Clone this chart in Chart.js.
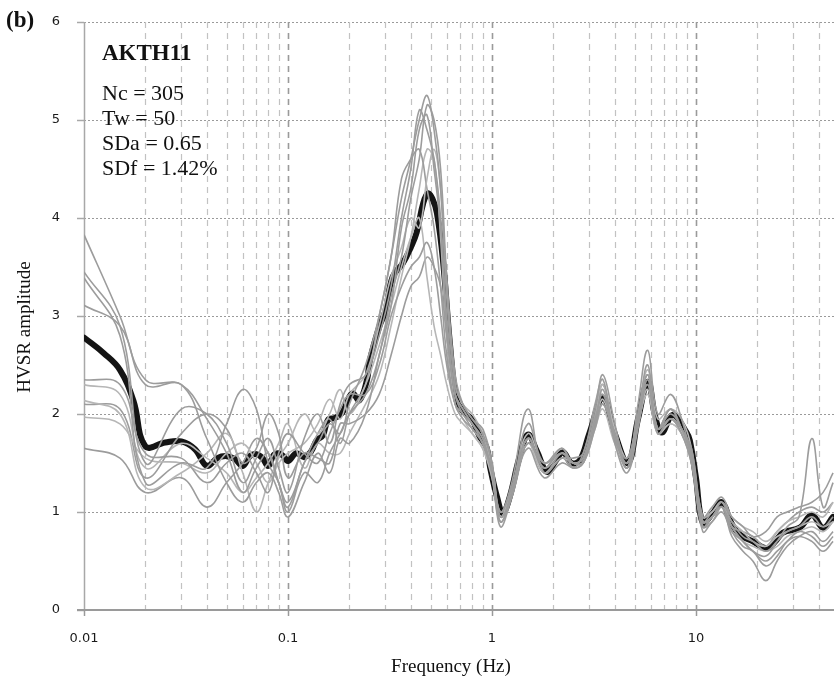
<!DOCTYPE html>
<html>
<head>
<meta charset="utf-8">
<title>HVSR AKTH11</title>
<script src="https://cdn.jsdelivr.net/npm/chart.js@4.4.1/dist/chart.umd.min.js"></script>
<style>
  html, body { margin: 0; padding: 0; background: #fff; }
  canvas { display: block; }
</style>
</head>
<body>
<canvas id="hvsr-chart" width="834" height="679"></canvas>
<script>
// frequency grid (Hz) shared by the individual window curves
const freqs = [
  0.01, 0.015, 0.02, 0.03, 0.04, 0.05, 0.06, 0.07, 0.08, 0.09,
  0.1, 0.12, 0.14, 0.16, 0.18, 0.2, 0.24, 0.28, 0.32, 0.36,
  0.4, 0.44, 0.48, 0.52, 0.56, 0.6, 0.66, 0.72, 0.8, 0.9,
  1.0, 1.1, 1.25, 1.5, 1.8, 2.2, 2.5, 2.8, 3.2, 3.5,
  4.0, 4.6, 5.2, 5.8, 6.5, 7.5, 8.5, 9.5, 10.8, 12,
  13.4, 15, 17, 19, 22, 25, 28, 32, 37, 42,
  47
];

// HVSR of the individual windows (grey curves)
const win1 = [3.83, 3.0, 2.35, 2.3, 1.95, 1.6, 1.2, 1.45, 1.6, 1.3,
  1.05, 1.5, 1.7, 1.9, 1.8, 2.1, 2.5, 3.0, 3.6, 4.2,
  4.6, 5.0, 5.25, 4.9, 4.3, 3.2, 2.3, 2.1, 1.95, 1.8,
  1.5, 0.95, 1.2, 1.9, 1.5, 1.65, 1.45, 1.6, 2.05, 2.4,
  1.9, 1.45, 2.1, 2.65, 2.0, 2.2, 1.95, 1.55, 0.85, 0.95,
  1.05, 0.85, 0.7, 0.6, 0.55, 0.7, 0.85, 0.95, 1.75, 1.05,
  1.3];
const win2 = [3.45, 2.9, 1.5, 2.05, 2.0, 1.7, 1.3, 1.55, 1.75, 1.45,
  1.2, 1.75, 2.0, 1.7, 2.1, 2.3, 2.4, 2.8, 3.3, 4.0,
  4.5, 5.1, 4.9, 4.6, 4.0, 3.0, 2.2, 2.0, 1.9, 1.7,
  1.45, 1.0, 1.3, 2.05, 1.4, 1.55, 1.55, 1.6, 2.1, 2.35,
  1.75, 1.55, 2.0, 2.5, 1.85, 2.05, 1.85, 1.65, 0.95, 1.05,
  1.15, 0.95, 0.85, 0.75, 0.8, 0.95, 1.0, 1.05, 1.1, 1.2,
  1.4];
const win3 = [3.39, 2.8, 1.3, 1.5, 1.45, 1.9, 2.25, 2.05, 1.5, 1.3,
  1.0, 1.4, 1.3, 1.6, 1.8, 2.0, 2.2, 2.6, 3.2, 3.6,
  4.2, 4.6, 5.15, 5.0, 4.5, 3.4, 2.4, 2.1, 1.95, 1.85,
  1.5, 0.9, 1.2, 1.7, 1.5, 1.6, 1.5, 1.5, 1.85, 2.1,
  1.8, 1.45, 1.9, 2.4, 1.85, 2.05, 1.85, 1.55, 0.85, 0.95,
  1.05, 0.75, 0.6, 0.5, 0.3, 0.5, 0.65, 0.75, 0.8, 0.7,
  0.8];
const win4 = [3.11, 2.9, 2.3, 2.3, 1.75, 1.3, 1.1, 1.3, 1.4, 1.2,
  0.95, 1.3, 1.6, 1.4, 1.75, 1.7, 2.0, 2.6, 3.1, 3.9,
  4.3, 4.9, 5.05, 4.5, 3.9, 2.9, 2.2, 2.05, 1.9, 1.75,
  1.4, 0.85, 1.15, 1.65, 1.35, 1.5, 1.45, 1.5, 1.9, 2.25,
  1.7, 1.4, 1.85, 2.35, 1.8, 1.95, 1.8, 1.5, 0.8, 0.9,
  1.0, 0.8, 0.7, 0.6, 0.5, 0.6, 0.7, 0.8, 0.75, 0.65,
  0.75];
const win5 = [2.35, 2.3, 1.6, 1.55, 1.3, 1.5, 1.6, 1.4, 1.2, 1.6,
  1.8, 1.6, 1.5, 1.8, 2.05, 2.2, 2.2, 2.5, 3.0, 3.3,
  3.5, 3.6, 3.75, 3.5, 3.0, 2.5, 2.1, 2.0, 1.85, 1.7,
  1.4, 1.0, 1.25, 1.75, 1.45, 1.65, 1.5, 1.55, 1.95, 2.2,
  1.75, 1.5, 1.95, 2.3, 1.85, 1.95, 1.85, 1.6, 0.9, 0.95,
  1.1, 0.9, 0.75, 0.7, 0.6, 0.7, 0.8, 0.85, 0.95, 0.85,
  0.95];
const win6 = [2.14, 2.0, 1.25, 1.4, 1.6, 1.8, 1.4, 1.0, 1.3, 1.55,
  1.7, 2.0, 1.8, 2.0, 2.25, 2.0, 2.3, 2.7, 3.1, 3.5,
  3.8, 4.0, 3.4, 2.9, 2.6, 2.3, 2.0, 1.9, 1.8, 1.65,
  1.35, 0.95, 1.2, 1.7, 1.4, 1.55, 1.5, 1.5, 1.85, 2.05,
  1.7, 1.5, 1.9, 2.25, 1.8, 1.9, 1.8, 1.55, 0.9, 0.95,
  1.05, 0.9, 0.8, 0.7, 0.65, 0.75, 0.8, 0.85, 0.9, 0.85,
  0.9];
const win7 = [1.97, 1.9, 1.55, 1.5, 1.4, 1.6, 1.7, 1.5, 1.3, 1.5,
  1.6, 1.7, 1.9, 2.15, 1.95, 2.2, 2.4, 2.9, 3.4, 3.7,
  4.0, 3.9, 4.4, 4.7, 4.3, 3.3, 2.3, 2.1, 2.0, 1.8,
  1.45, 0.95, 1.25, 1.8, 1.5, 1.6, 1.5, 1.55, 1.95, 2.3,
  1.85, 1.55, 2.0, 2.45, 1.95, 2.05, 1.95, 1.65, 0.95, 1.0,
  1.1, 0.95, 0.85, 0.8, 0.7, 0.8, 0.9, 0.95, 1.0, 0.95,
  1.1];
const win8 = [1.65, 1.55, 1.2, 1.35, 1.05, 1.3, 1.5, 1.75, 1.6, 1.3,
  1.1, 1.5, 1.8, 1.95, 1.7, 2.0, 2.3, 3.0, 3.6, 4.4,
  4.6, 4.7, 4.3, 3.9, 3.3, 2.6, 2.1, 1.95, 1.85, 1.7,
  1.35, 0.9, 1.15, 1.7, 1.4, 1.55, 1.45, 1.5, 1.9, 2.1,
  1.75, 1.45, 1.9, 2.3, 1.8, 1.95, 1.8, 1.5, 0.85, 0.9,
  1.05, 0.8, 0.65, 0.6, 0.45, 0.55, 0.7, 0.75, 0.7, 0.6,
  0.7];
const win9 = [2.1, 2.05, 1.35, 1.8, 2.0, 1.85, 1.5, 1.65, 2.0, 1.8,
  1.35, 1.6, 1.55, 1.5, 1.9, 1.9, 2.0, 2.2, 2.6, 3.0,
  3.3, 3.4, 3.6, 3.5, 3.3, 2.8, 2.2, 2.05, 1.9, 1.75,
  1.4, 0.95, 1.2, 1.75, 1.4, 1.6, 1.5, 1.55, 2.0, 2.3,
  1.8, 1.5, 1.95, 2.4, 1.85, 2.0, 1.85, 1.6, 0.9, 1.0,
  1.1, 0.85, 0.8, 0.75, 0.65, 0.8, 0.9, 1.0, 1.05, 1.0,
  1.1];
const win10 = [2.3, 2.2, 1.45, 1.7, 1.55, 1.4, 1.2, 1.35, 1.5, 1.7,
  1.9, 1.45, 1.7, 1.6, 1.6, 1.8, 2.1, 2.4, 2.9, 3.4,
  3.8, 4.3, 4.7, 4.6, 3.8, 2.8, 2.1, 1.95, 1.8, 1.65,
  1.4, 1.0, 1.2, 1.75, 1.45, 1.6, 1.5, 1.5, 1.9, 2.15,
  1.75, 1.45, 1.9, 2.2, 1.8, 1.9, 1.8, 1.55, 0.9, 0.95,
  1.05, 0.85, 0.7, 0.65, 0.6, 0.65, 0.75, 0.8, 0.85, 0.8,
  0.9];
const windows = [win1, win2, win3, win4, win5, win6, win7, win8, win9, win10];

// average HVSR curve (thick black)
const meanFreqs = [
  0.01, 0.0125, 0.015, 0.0175, 0.02, 0.025, 0.03, 0.035, 0.04, 0.045,
  0.05, 0.055, 0.06, 0.065, 0.07, 0.075, 0.08, 0.085, 0.09, 0.095,
  0.1, 0.11, 0.12, 0.13, 0.138, 0.148, 0.157, 0.17, 0.184, 0.206,
  0.224, 0.244, 0.252, 0.28, 0.3, 0.326, 0.366, 0.4, 0.427, 0.46,
  0.485, 0.51, 0.537, 0.575, 0.622, 0.67, 0.72, 0.8, 0.87, 0.94,
  0.98, 1.06, 1.13, 1.22, 1.36, 1.5, 1.66, 1.86, 2.05, 2.23,
  2.45, 2.7, 3.0, 3.5, 4.0, 4.64, 5.2, 5.82, 6.3, 6.8,
  7.7, 9.0, 9.33, 10.0, 10.8, 12.0, 13.4, 14.8, 16.4, 19,
  22.3, 24.5, 26.7, 32.3, 37, 42, 47
];
const meanAmp = [
  2.78, 2.62, 2.45, 2.13, 1.67, 1.71, 1.72, 1.64, 1.47, 1.55,
  1.57, 1.54, 1.47, 1.57, 1.59, 1.55, 1.47, 1.58, 1.60, 1.57,
  1.52, 1.60, 1.56, 1.62, 1.73, 1.78, 1.94, 1.96, 2.01, 2.21,
  2.14, 2.35, 2.55, 2.89, 3.05, 3.40, 3.54, 3.70, 3.85, 4.15,
  4.25, 4.20, 4.05, 3.57, 2.72, 2.14, 2.03, 1.94, 1.77, 1.66,
  1.45, 1.15, 0.99, 1.15, 1.55, 1.79, 1.62, 1.41, 1.52, 1.61,
  1.50, 1.53, 1.80, 2.16, 1.80, 1.50, 1.95, 2.33, 1.98, 1.81,
  1.99, 1.81, 1.73, 1.35, 0.89, 0.98, 1.10, 0.90, 0.77, 0.70,
  0.63, 0.70, 0.79, 0.84, 0.97, 0.84, 0.95
];

const xTickValues = [0.01, 0.1, 1, 10];
const xTickLabels = ["0.01", "0.1", "1", "10"];
const yTickValues = [0, 1, 2, 3, 4, 5, 6];
const panelLabel = "(b)";
const stationName = "AKTH11";
const statsLines = ["Nc = 305", "Tw = 50", "SDa = 0.65", "SDf = 1.42%"];
const xTitle = "Frequency (Hz)";
const yTitle = "HVSR amplitude";

const SERIF = "'Liberation Serif', 'Times New Roman', serif";
const SANS = "'DejaVu Sans', sans-serif";
const lightWindows = [5, 6, 9];

const datasets = windows.map((vals, i) => ({
  data: vals.map((v, k) => ({ x: freqs[k], y: v })),
  borderColor: lightWindows.includes(i) ? "#b6b6b6" : "#9c9c9c",
  borderWidth: 1.6,
  pointRadius: 0,
  tension: 0.4,
  fill: false
}));
datasets.push({
  data: meanAmp.map((v, k) => ({ x: meanFreqs[k], y: v })),
  borderColor: "#141414",
  borderWidth: 6,
  pointRadius: 0,
  tension: 0.4,
  fill: false,
  borderJoinStyle: "round",
  borderCapStyle: "round"
});

// grid, axes and text, placed through the chart scales
const framePlugin = {
  id: "hvsrFrame",
  beforeDatasetsDraw(chart) {
    const { ctx, chartArea: a, scales: { x, y } } = chart;
    ctx.save();
    // horizontal dotted lines
    ctx.strokeStyle = "#9a9a9a";
    ctx.lineWidth = 1;
    ctx.setLineDash([2, 2]);
    yTickValues.forEach(v => {
      if (v === 0) return;
      const py = Math.round(y.getPixelForValue(v)) + 0.5;
      ctx.beginPath();
      ctx.moveTo(a.left, py);
      ctx.lineTo(a.right, py);
      ctx.stroke();
    });
    // vertical dashed lines at every log step
    for (let d = -2; d <= 1; d++) {
      for (let m = 1; m <= 9; m++) {
        const v = m * Math.pow(10, d);
        if (v <= x.min * 1.001 || v > x.max) continue;
        const px = Math.round(x.getPixelForValue(v)) + 0.5;
        ctx.setLineDash([6, 5]);
        ctx.strokeStyle = m === 1 ? "#9a9a9a" : "#c2c2c2";
        ctx.lineWidth = m === 1 ? 1.6 : 1.2;
        ctx.beginPath();
        ctx.moveTo(px, a.top);
        ctx.lineTo(px, a.bottom);
        ctx.stroke();
      }
    }
    ctx.setLineDash([]);
    // y axis line and ticks
    ctx.strokeStyle = "#a8a8a8";
    ctx.lineWidth = 1.5;
    ctx.beginPath();
    ctx.moveTo(a.left + 0.5, a.top);
    ctx.lineTo(a.left + 0.5, a.bottom);
    ctx.stroke();
    yTickValues.forEach(v => {
      const py = Math.round(y.getPixelForValue(v)) + 0.5;
      ctx.beginPath();
      ctx.moveTo(a.left - 7, py);
      ctx.lineTo(a.left, py);
      ctx.stroke();
    });
    ctx.restore();
  },
  afterDatasetsDraw(chart) {
    const { ctx, chartArea: a, scales: { x } } = chart;
    ctx.save();
    // x axis line and decade ticks
    ctx.strokeStyle = "#9a9a9a";
    ctx.lineWidth = 2;
    ctx.beginPath();
    ctx.moveTo(a.left - 7, a.bottom);
    ctx.lineTo(a.right, a.bottom);
    ctx.stroke();
    ctx.lineWidth = 1.5;
    xTickValues.forEach(v => {
      const px = Math.round(x.getPixelForValue(v)) + 0.5;
      ctx.beginPath();
      ctx.moveTo(px, a.bottom);
      ctx.lineTo(px, a.bottom + 6);
      ctx.stroke();
    });
    ctx.restore();
  },
  afterDraw(chart) {
    const { ctx } = chart;
    ctx.save();
    ctx.fillStyle = "#111";
    ctx.textAlign = "left";
    ctx.textBaseline = "alphabetic";
    ctx.font = "bold 23px " + SERIF;
    ctx.fillText(panelLabel, 6, 27);
    ctx.font = "bold 23px " + SERIF;
    ctx.fillText(stationName, 102, 60);
    ctx.font = "22px " + SERIF;
    statsLines.forEach((t, i) => ctx.fillText(t, 102, 100 + i * 25));
    // axis titles
    ctx.font = "19px " + SERIF;
    ctx.textAlign = "center";
    ctx.textBaseline = "middle";
    ctx.fillText(xTitle, 451, 667);
    ctx.translate(25, 327);
    ctx.rotate(-Math.PI / 2);
    ctx.fillText(yTitle, 0, 0);
    ctx.restore();
  }
};

new Chart(document.getElementById("hvsr-chart"), {
  type: "line",
  data: { datasets },
  options: {
    responsive: false,
    animation: false,
    events: [],
    layout: { padding: { top: 22, right: 0, bottom: 0, left: 0 } },
    plugins: { legend: { display: false }, tooltip: { enabled: false } },
    scales: {
      x: {
        type: "logarithmic",
        min: 0.01,
        max: 47.5,
        afterBuildTicks: s => { s.ticks = xTickValues.map(v => ({ value: v })); },
        afterFit: s => { s.height = 69; },
        grid: { display: false, drawTicks: true, tickLength: 19 },
        border: { display: false },
        ticks: {
          autoSkip: false,
          maxRotation: 0,
          padding: 2,
          color: "#1a1a1a",
          font: { family: SANS, size: 13 },
          callback: (v) => {
            const i = xTickValues.indexOf(v);
            return i >= 0 ? xTickLabels[i] : "";
          }
        }
      },
      y: {
        type: "linear",
        min: 0,
        max: 6,
        afterBuildTicks: s => { s.ticks = yTickValues.map(v => ({ value: v })); },
        afterFit: s => { s.width = 84; },
        grid: { display: false, drawTicks: true, tickLength: 22 },
        border: { display: false },
        ticks: {
          padding: 2,
          color: "#1a1a1a",
          font: { family: SANS, size: 13 }
        }
      }
    }
  },
  plugins: [framePlugin]
});
</script>
</body>
</html>
